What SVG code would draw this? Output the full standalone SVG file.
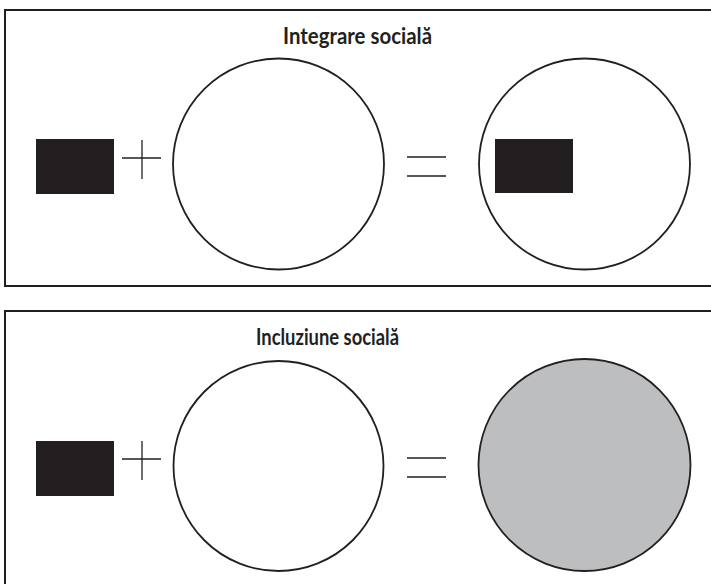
<svg xmlns="http://www.w3.org/2000/svg" width="711" height="584" viewBox="0 0 711 584">
<style>
.frame{fill:none;stroke:#231f20;stroke-width:2}
.circ{fill:#fff;stroke:#231f20;stroke-width:1.8}
.gray{fill:#bcbec0;stroke:#231f20;stroke-width:1.8}
.blk{fill:#231f20}
.op{stroke:#231f20;stroke-width:1.3;fill:none}
.title{font-family:Lato,"Open Sans","Liberation Sans",sans-serif;font-weight:bold;font-size:23px;fill:#231f20}
</style>
<rect width="711" height="584" fill="#fff"/>
<g id="panel-integrare">
  <rect class="frame" x="5" y="10" width="720" height="276"/>
  <text class="title" x="283" y="44" textLength="149" lengthAdjust="spacingAndGlyphs">Integrare socială</text>
  <rect id="square-1" class="blk" x="36" y="139" width="78" height="55"/>
  <path class="op" d="M122 158H161M142 140V179"/>
  <circle class="circ" cx="278.5" cy="164" r="105.5"/>
  <path class="op" d="M407 157H446M407 176H446"/>
  <circle class="circ" cx="584.5" cy="164" r="105.5"/>
  <rect class="blk" x="495" y="139" width="78" height="54"/>
</g>
<g id="panel-incluziune">
  <rect class="frame" x="5" y="311" width="720" height="300"/>
  <text class="title" x="256" y="345" textLength="143" lengthAdjust="spacingAndGlyphs">Incluziune socială</text>
  <rect class="blk" x="36" y="441" width="78" height="55"/>
  <path class="op" d="M122 459H161M142 441V480"/>
  <circle class="circ" cx="278.5" cy="466" r="105"/>
  <path class="op" d="M407 458H446M407 477H446"/>
  <circle class="gray" cx="584.5" cy="465" r="106"/>
</g>
</svg>
